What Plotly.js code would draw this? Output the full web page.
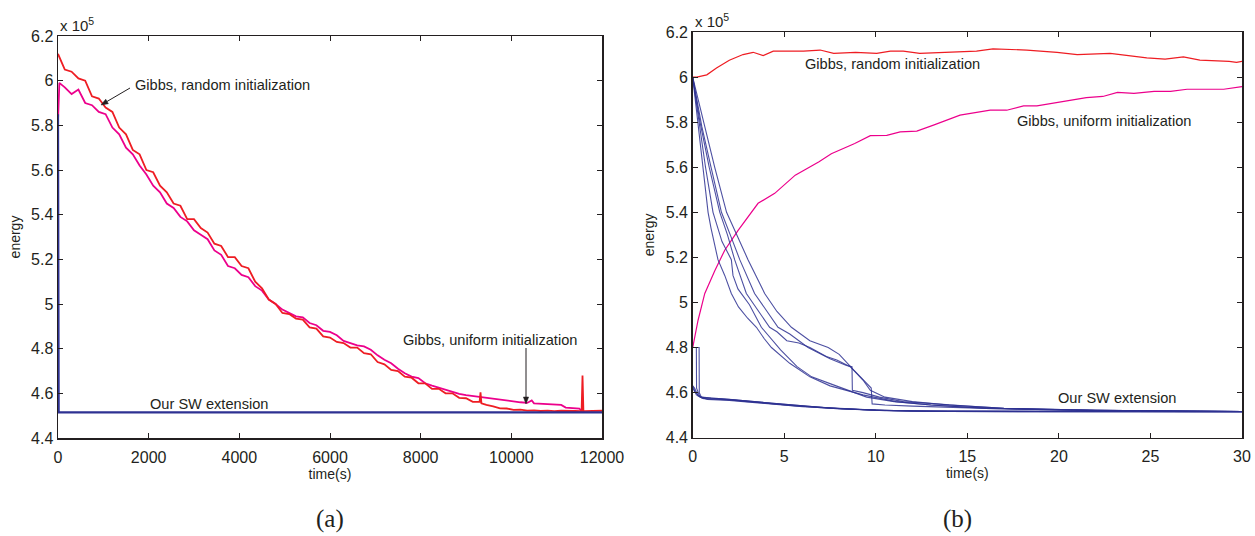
<!DOCTYPE html>
<html>
<head>
<meta charset="utf-8">
<script src="https://cdn.plot.ly/plotly-3.0.1.min.js"></script>
<style>
html,body{margin:0;padding:0;background:#fff;}
#chart{width:1255px;height:536px;}
</style>
</head>
<body>
<div id="chart"></div>
<script>
// ---------- Panel (a): energy (x1e5) vs time(s), 0..12000 ----------
const redAX = [0,150,300,450,600,750,900,1050,1200,1350,1500,1650,1800,1950,2100,2250,2400,2550,2700,2850,3000,3150,3300,3450,3600,3750,3900,4050,4200,4350,4500,4650,4800,4950,5100,5250,5400,5550,5700,5850,6000,6150,6300,6450,6600,6750,6900,7050,7200,7350,7500,7650,7800,7950,8100,8250,8400,8550,8700,8850,9000,9150,9300,9320,9340,9450,9600,9750,9900,10050,10200,10350,10500,10650,10800,10950,11100,11250,11400,11550,11570,11590,11700,11850,12000];
const redAY = [6.12,6.05,6.04,6.01,6.00,5.93,5.92,5.88,5.86,5.79,5.76,5.69,5.67,5.60,5.59,5.53,5.50,5.45,5.44,5.38,5.38,5.34,5.32,5.27,5.26,5.21,5.21,5.17,5.16,5.10,5.07,5.02,5.00,4.96,4.955,4.935,4.93,4.895,4.89,4.855,4.85,4.83,4.825,4.805,4.805,4.78,4.775,4.74,4.73,4.705,4.70,4.675,4.67,4.645,4.645,4.62,4.62,4.60,4.60,4.58,4.578,4.562,4.562,4.605,4.555,4.548,4.542,4.533,4.532,4.526,4.527,4.523,4.524,4.521,4.523,4.520,4.522,4.520,4.521,4.520,4.68,4.520,4.521,4.520,4.522];

const magAX = [0,30,150,300,450,600,750,900,1050,1200,1350,1500,1650,1800,1950,2100,2250,2400,2550,2700,2850,3000,3150,3300,3450,3600,3750,3900,4050,4200,4350,4500,4650,4800,4950,5100,5250,5400,5550,5700,5850,6000,6150,6300,6450,6600,6750,6900,7050,7200,7350,7500,7650,7800,7950,8100,8250,8400,8550,8700,8850,9000,9150,9300,9450,9600,9750,9900,10050,10200,10350,10450,10500,10650,10800,10950,11100,11200,11350,11500,11550];
const magAY = [5.82,5.99,5.97,5.94,5.96,5.90,5.89,5.86,5.85,5.79,5.76,5.70,5.67,5.62,5.58,5.53,5.50,5.45,5.43,5.39,5.37,5.33,5.31,5.29,5.24,5.22,5.17,5.16,5.13,5.12,5.08,5.06,5.02,5.00,4.975,4.96,4.945,4.94,4.915,4.905,4.88,4.875,4.86,4.835,4.825,4.815,4.81,4.795,4.77,4.75,4.735,4.71,4.69,4.675,4.668,4.645,4.635,4.625,4.618,4.605,4.598,4.592,4.588,4.582,4.578,4.575,4.57,4.565,4.562,4.56,4.557,4.568,4.555,4.553,4.552,4.55,4.548,4.536,4.535,4.532,4.52];

const swAX = [0,5,15,12000];
const swAY = [5.85,4.55,4.515,4.515];

// ---------- Panel (b): energy (x1e5) vs time(s), 0..30 ----------
const redBT = [0,0.22,0.77,1.3,2.0,2.75,3.3,3.85,4.4,5.1,6.05,6.96,7.7,8.9,10.05,10.8,11.5,12.4,13.6,15.5,16.4,18.25,19.9,21.0,22.8,24.8,25.8,26.8,27.7,29.3,29.7,30];
const redBE = [6.0,6.0,6.01,6.04,6.075,6.10,6.11,6.095,6.115,6.115,6.115,6.12,6.105,6.11,6.105,6.115,6.115,6.105,6.11,6.115,6.125,6.12,6.11,6.10,6.105,6.085,6.08,6.09,6.075,6.07,6.065,6.07];

const magBT = [0,0.29,0.66,1.2,1.75,2.48,3.57,3.86,4.48,5.6,6.9,7.57,8.4,8.85,9.7,10.6,11.33,12.24,13.15,13.9,14.6,16.25,17.15,18.07,18.8,20.6,21.5,22.4,23.2,24.1,25.2,26.1,27.0,29.0,30];
const magBE = [4.80,4.92,5.04,5.14,5.232,5.32,5.44,5.454,5.484,5.565,5.624,5.66,5.69,5.705,5.74,5.741,5.757,5.76,5.787,5.809,5.831,5.853,5.853,5.872,5.872,5.897,5.909,5.914,5.932,5.928,5.937,5.937,5.946,5.946,5.958];

// Our SW extension runs started from random state (slow descent)
const slow1T = [0,0.2,0.5,0.84,1.0,1.2,1.38,1.75,2.11,2.5,3.0,3.48,3.9,4.3,5.3,6.4,7.5,9.3,11.1,13,15,18,22,30];
const slow1E = [6.0,5.86,5.63,5.40,5.33,5.25,5.19,5.12,5.04,4.98,4.93,4.89,4.84,4.80,4.73,4.67,4.63,4.59,4.56,4.545,4.535,4.527,4.52,4.516];
const slow2T = [0,0.3,0.7,1.11,1.6,2.11,2.2,2.47,3.1,3.75,4.3,4.8,5.7,6.5,7.5,8.5,9.5,11,13,16,20,30];
const slow2E = [6.0,5.82,5.60,5.40,5.27,5.19,5.12,5.06,4.99,4.89,4.84,4.79,4.715,4.67,4.64,4.61,4.58,4.56,4.545,4.53,4.523,4.516];
const slow3T = [0,0.4,0.9,1.48,1.9,2.29,2.93,3.5,4.2,4.6,5.14,5.8,6.4,7.3,7.87,8.6,9.3,9.7,10.5,12,14,17,22,30];
const slow3E = [6.0,5.80,5.60,5.40,5.30,5.19,5.04,4.97,4.89,4.87,4.83,4.82,4.80,4.76,4.745,4.715,4.656,4.61,4.58,4.56,4.545,4.53,4.522,4.516];
const slow4T = [0,0.5,1.0,1.57,2.1,2.57,3.38,4.0,4.66,5.3,6.3,7.5,8.4,8.7,8.72,9.3,10.2,11.5,13,15,17,22,30];
const slow4E = [6.0,5.78,5.60,5.40,5.29,5.19,5.04,4.97,4.89,4.86,4.80,4.75,4.72,4.715,4.61,4.60,4.58,4.56,4.55,4.54,4.53,4.522,4.516];
const slow5T = [0,0.6,1.2,1.85,2.4,3.02,3.93,4.6,5.39,6.4,7.4,8.0,8.8,9.3,9.75,9.8,10.5,12,14.5,16,22,30];
const slow5E = [6.0,5.80,5.60,5.40,5.30,5.19,5.04,4.96,4.89,4.83,4.80,4.77,4.70,4.66,4.62,4.55,4.545,4.54,4.535,4.53,4.522,4.516];

// Runs started from uniform / good state (fast descent)
const fast1T = [0,0.35,0.36,0.5,1,2,3,5,7,10,13,30];
const fast1E = [4.80,4.80,4.60,4.575,4.572,4.568,4.56,4.545,4.533,4.522,4.517,4.515];
const fast2T = [0,0.2,0.21,0.4,1,2,4,6,8,11,14,30];
const fast2E = [4.80,4.80,4.62,4.58,4.575,4.57,4.555,4.54,4.528,4.52,4.516,4.515];
const fast3T = [0,0.1,0.3,0.8,2,4,6,9,12,30];
const fast3E = [4.63,4.62,4.585,4.57,4.565,4.553,4.538,4.525,4.518,4.515];
const fast4T = [0,0.15,0.45,1.2,2.5,5,7.5,10,14,30];
const fast4E = [4.62,4.60,4.58,4.575,4.565,4.548,4.532,4.522,4.516,4.515];
const fast5T = [0,0.1,0.2,0.6,1.5,3,5.5,8,10.5,30];
const fast5E = [4.63,4.61,4.59,4.573,4.572,4.562,4.542,4.53,4.52,4.515];

// Tick labels
const yTickVals = [4.4,4.6,4.8,5.0,5.2,5.4,5.6,5.8,6.0,6.2];
const yTickText = ['4.4','4.6','4.8','5','5.2','5.4','5.6','5.8','6','6.2'];
const xTickValsA = [0,2000,4000,6000,8000,10000,12000];
const xTickValsB = [0,5,10,15,20,25,30];

// ---------- Styles ----------
const RED = '#ee1d23';
const MAG = '#ec008c';
const BLUE = '#2e3192';
const FONT = 'Liberation Sans, Arial, Helvetica, sans-serif';
const INK = '#231f20';

const traces = [];
traces.push({x: magAX, y: magAY, xaxis:'x', yaxis:'y', mode:'lines', line:{color:MAG, width:1.8}, hoverinfo:'skip'});
traces.push({x: redAX, y: redAY, xaxis:'x', yaxis:'y', mode:'lines', line:{color:RED, width:1.8}, hoverinfo:'skip'});
traces.push({x: swAX, y: swAY, xaxis:'x', yaxis:'y', mode:'lines', line:{color:BLUE, width:2.2}, hoverinfo:'skip'});

traces.push({x: redBT, y: redBE, xaxis:'x2', yaxis:'y2', mode:'lines', line:{color:RED, width:1.2}, hoverinfo:'skip'});
traces.push({x: magBT, y: magBE, xaxis:'x2', yaxis:'y2', mode:'lines', line:{color:MAG, width:1.2}, hoverinfo:'skip'});
[[slow1T,slow1E],[slow2T,slow2E],[slow3T,slow3E],[slow4T,slow4E],[slow5T,slow5E],
 [fast1T,fast1E],[fast2T,fast2E],[fast3T,fast3E],[fast4T,fast4E],[fast5T,fast5E]].forEach(function(p){
  traces.push({x:p[0], y:p[1], xaxis:'x2', yaxis:'y2', mode:'lines', line:{color:BLUE, width:1.1}, opacity:0.85, hoverinfo:'skip'});
});

const labFont = {family:FONT, size:14, color:INK};
function axis(extra){
  return Object.assign({
    showline:true, mirror:'ticks', linecolor:INK, linewidth:1.5,
    ticks:'inside', ticklen:5, tickwidth:1, tickcolor:INK,
    showgrid:false, zeroline:false, automargin:false,
    tickfont:{family:FONT, size:16, color:INK}
  }, extra);
}

const annFont = {family:FONT, size:14.6, color:INK};
const capFont = {family:'Liberation Serif, DejaVu Serif, serif', size:25, color:INK};
const annotations = [
  // panel (a)
  {xref:'x', yref:'y', x:1660, y:5.982, text:'Gibbs, random initialization', showarrow:false, xanchor:'left', yanchor:'middle', font:annFont},
  {xref:'x', yref:'y', x:9530, y:4.838, text:'Gibbs, uniform initialization', showarrow:false, xanchor:'center', yanchor:'middle', font:annFont},
  {xref:'x', yref:'y', x:3340, y:4.552, text:'Our SW extension', showarrow:false, xanchor:'center', yanchor:'middle', font:annFont},
  {xref:'paper', yref:'paper', x:58/1255, y:1-36/536, text:'x 10<sup>5</sup>', showarrow:false, xanchor:'left', yanchor:'bottom', font:{family:FONT, size:15, color:INK}},
  {xref:'paper', yref:'paper', x:330/1255, y:1-519/536, text:'(a)', showarrow:false, xanchor:'center', yanchor:'middle', font:capFont},
  // panel (b)
  {xref:'x2', yref:'y2', x:10.9, y:6.06, text:'Gibbs, random initialization', showarrow:false, xanchor:'center', yanchor:'middle', font:annFont},
  {xref:'x2', yref:'y2', x:22.46, y:5.806, text:'Gibbs, uniform initialization', showarrow:false, xanchor:'center', yanchor:'middle', font:annFont},
  {xref:'x2', yref:'y2', x:23.2, y:4.575, text:'Our SW extension', showarrow:false, xanchor:'center', yanchor:'middle', font:annFont},
  {xref:'paper', yref:'paper', x:693/1255, y:1-32/536, text:'x 10<sup>5</sup>', showarrow:false, xanchor:'left', yanchor:'bottom', font:{family:FONT, size:15, color:INK}},
  {xref:'paper', yref:'paper', x:957/1255, y:1-519/536, text:'(b)', showarrow:false, xanchor:'center', yanchor:'middle', font:capFont}
];

// Pointer arrows of the two panel-(a) labels (pixel positions -> paper fractions)
function P(px, py){ return [px/1255, 1-py/536]; }
function arrowShapes(tx, ty, hx, hy){
  const dx = hx-tx, dy = hy-ty, L = Math.sqrt(dx*dx+dy*dy);
  const ux = dx/L, uy = dy/L, len = 7, hw = 2.6;
  const bx = hx-ux*len, by = hy-uy*len;
  const a = P(tx,ty), b = P(bx,by), h = P(hx,hy);
  const l = P(bx-uy*hw, by+ux*hw), r = P(bx+uy*hw, by-ux*hw);
  return [
    {type:'line', xref:'paper', yref:'paper', x0:a[0], y0:a[1], x1:b[0], y1:b[1], line:{color:INK, width:1}},
    {type:'path', xref:'paper', yref:'paper', path:'M'+h[0]+','+h[1]+' L'+l[0]+','+l[1]+' L'+r[0]+','+r[1]+' Z', fillcolor:INK, line:{color:INK, width:0.5}}
  ];
}
const shapes = [].concat(arrowShapes(130,88,101,105), arrowShapes(526,348,526,404));

const layout = {
  width:1255, height:536,
  margin:{l:0, r:0, t:0, b:0, pad:0},
  paper_bgcolor:'#ffffff', plot_bgcolor:'#ffffff',
  showlegend:false,
  xaxis: axis({domain:[58/1255, 602/1255], range:[0,12000], tickvals:xTickValsA, ticktext:xTickValsA.map(String), anchor:'y', ticklabelstandoff:4, title:{text:'time(s)', font:labFont, standoff:0}}),
  yaxis: axis({domain:[1-438/536, 1-36/536], range:[4.4,6.2], tickvals:yTickVals, ticktext:yTickText, anchor:'x', title:{text:'energy', font:labFont, standoff:7}}),
  xaxis2: axis({domain:[692.7/1255, 1242/1255], range:[0,30], tickvals:xTickValsB, ticktext:xTickValsB.map(String), anchor:'y2', ticklabelstandoff:4, title:{text:'time(s)', font:labFont, standoff:0}}),
  yaxis2: axis({domain:[1-437.7/536, 1-32/536], range:[4.4,6.2], tickvals:yTickVals, ticktext:yTickText, anchor:'x2', title:{text:'energy', font:labFont, standoff:8}}),
  annotations: annotations,
  shapes: shapes
};

Plotly.newPlot('chart', traces, layout, {displayModeBar:false, staticPlot:true});
</script>
</body>
</html>
